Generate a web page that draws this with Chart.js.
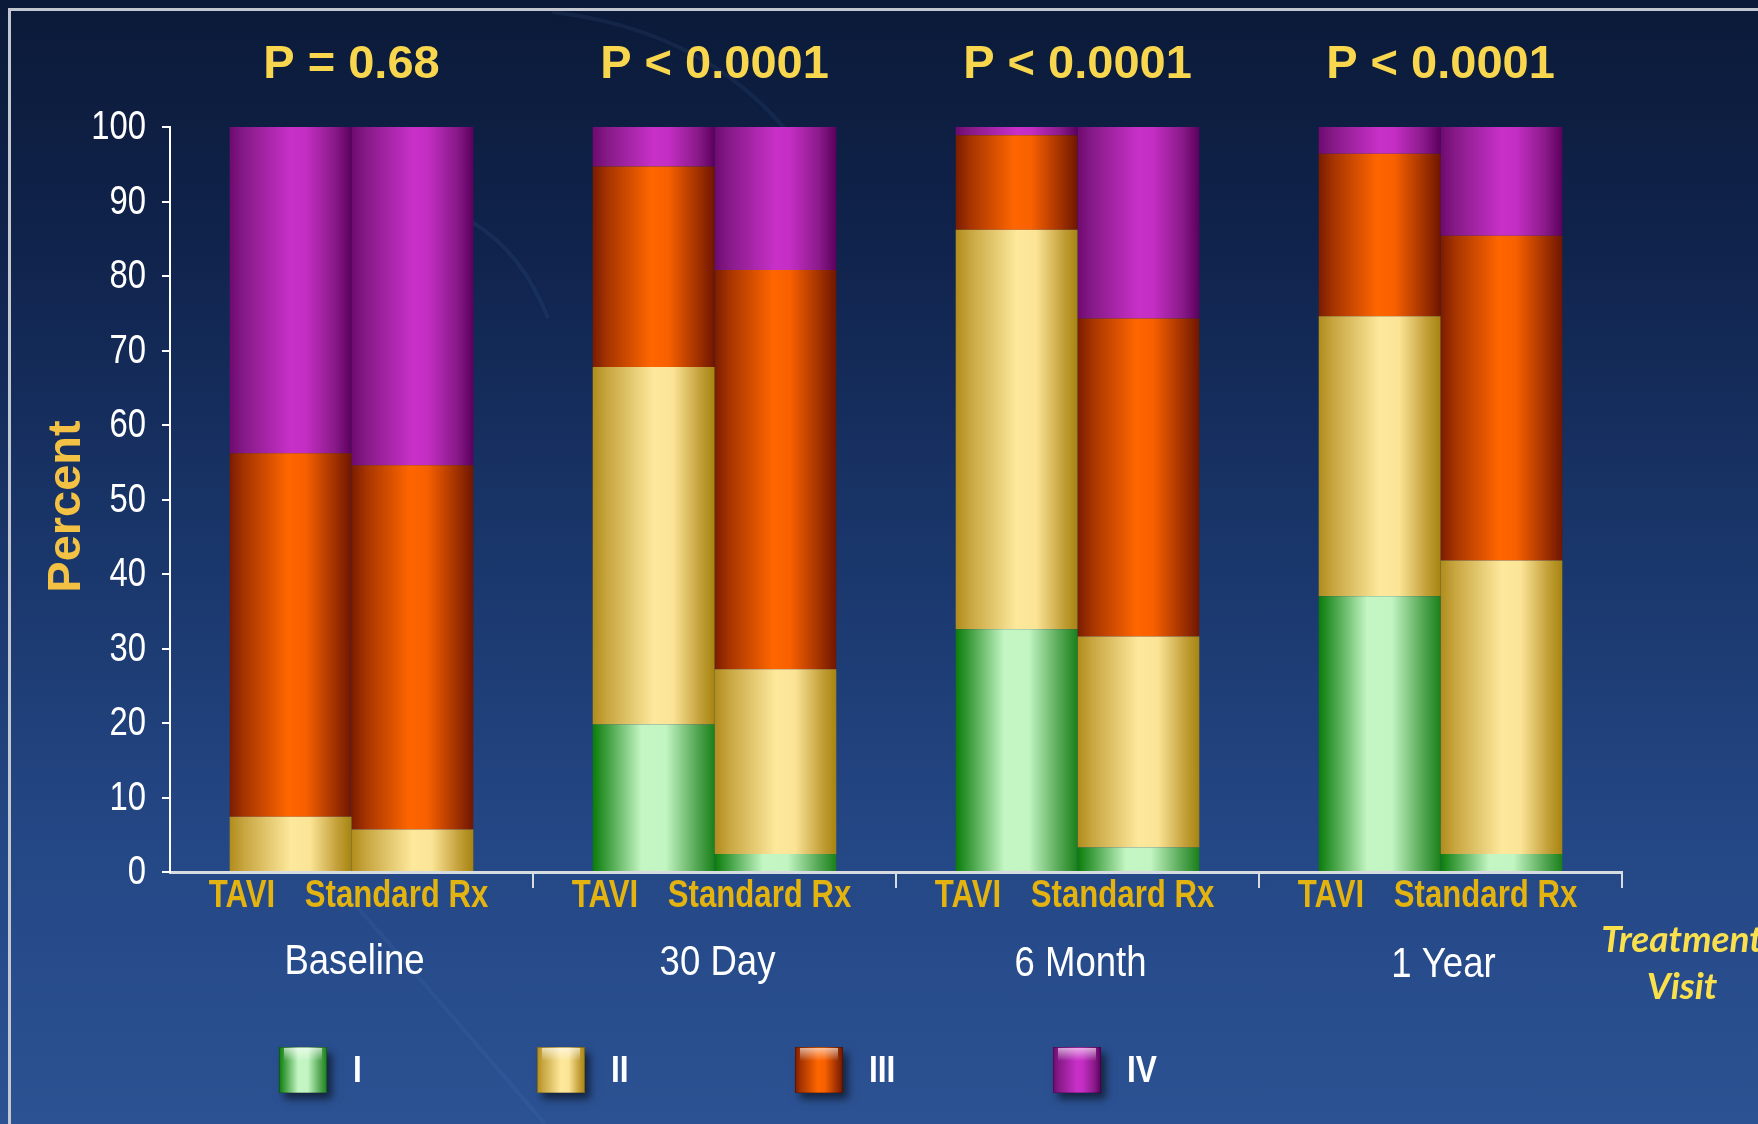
<!DOCTYPE html>
<html>
<head>
<meta charset="utf-8">
<title>NYHA class by visit</title>
<script src="https://cdn.jsdelivr.net/npm/chart.js@4.4.1/dist/chart.umd.min.js"></script>
<style>
    html, body { margin: 0; padding: 0; }
    body {
        width: 1758px;
        height: 1124px;
        overflow: hidden;
        position: relative;
        background: linear-gradient(to bottom, #0b1a38 0%, #10234c 22%, #1a376c 50%, #244785 75%, #2c5293 100%);
    }
    #frame {
        position: absolute;
        left: 8px;
        top: 8px;
        width: 1820px;
        height: 1220px;
        border: 3px solid #c3c7cf;
        box-sizing: border-box;
    }
    #nyhaChart { position: absolute; left: 0; top: 0; }
</style>
</head>
<body>
<div id="frame"></div>
<canvas id="nyhaChart" width="1758" height="1124"></canvas>
<script>
/* ═══════════ data ═══════════ */
const visits = ['Baseline', '30 Day', '6 Month', '1 Year'];
const arms = ['TAVI', 'Standard Rx'];
const classes = ['I', 'II', 'III', 'IV'];
const pValues = ['P = 0.68', 'P < 0.0001', 'P < 0.0001', 'P < 0.0001'];

// percent of patients in each NYHA class
const taviI   = [0,    19.8, 32.6, 37.0];
const taviII  = [7.4,  48.0, 53.6, 37.6];
const taviIII = [48.8, 26.9, 12.7, 21.8];
const taviIV  = [43.8, 5.3,  1.1,  3.6];

const stdI    = [0,    2.4,  3.3,  2.4];
const stdII   = [5.7,  24.8, 28.3, 39.4];
const stdIII  = [48.9, 53.6, 42.7, 43.6];
const stdIV   = [45.4, 19.2, 25.7, 14.6];

const yMax = 100;
const yStep = 10;

/* ═══════════ styling ═══════════ */
// horizontal "cylinder" shading for each class
const shades = {
    I:   [[0, '#0a7c0a'], [0.12, '#3f9f40'], [0.4, '#c4f6c4'], [0.6, '#c2f5c2'], [0.84, '#5aab5a'], [1, '#1a801a']],
    II:  [[0, '#b08c1c'], [0.12, '#c8a640'], [0.5, '#fde89c'], [0.66, '#fbe496'], [0.88, '#c4a03a'], [1, '#a6840f']],
    III: [[0, '#7a1c00'], [0.12, '#a63400'], [0.48, '#ff6600'], [0.62, '#f86000'], [0.86, '#a23200'], [1, '#701600']],
    IV:  [[0, '#6e0a70'], [0.12, '#861a88'], [0.5, '#c830c8'], [0.62, '#c42ec4'], [0.86, '#8a1a8a'], [1, '#5c005e']]
};
const flat = { I: '#9be39b', II: '#f0d47a', III: '#e05000', IV: '#b020b0' };

const SANS = "'Liberation Sans', Arial, sans-serif";

const seriesData = {
    TAVI: [taviI, taviII, taviIII, taviIV],
    'Standard Rx': [stdI, stdII, stdIII, stdIV]
};

const datasets = [];
arms.forEach(arm => {
    classes.forEach((cls, k) => {
        datasets.push({
            label: arm + ' ' + cls,
            data: seriesData[arm][k],
            stack: arm,
            shade: cls,
            backgroundColor: () => flat[cls],
            borderWidth: 0,
            barPercentage: 1.0,
            categoryPercentage: 0.671
        });
    });
});

function cylinder(ctx, left, width, cls) {
    const g = ctx.createLinearGradient(left, 0, left + width, 0);
    shades[cls].forEach(s => g.addColorStop(s[0], s[1]));
    return g;
}

// the slide uses a narrow face; squeeze Liberation Sans horizontally instead
function narrowText(ctx, text, x, y, font, squeeze) {
    ctx.save();
    ctx.translate(x, y);
    ctx.scale(squeeze, 1);
    ctx.font = font;
    ctx.fillText(text, 0, 0);
    ctx.restore();
}

// faint swooshes from the slide template
const backdrop = {
    id: 'backdrop',
    beforeDraw(chart) {
        const ctx = chart.ctx;
        ctx.save();
        ctx.strokeStyle = 'rgba(120, 160, 225, 0.08)';
        ctx.lineWidth = 4;
        ctx.shadowColor = 'rgba(120, 160, 225, 0.2)';
        ctx.shadowBlur = 6;
        ctx.beginPath();
        ctx.moveTo(552, 12);
        ctx.quadraticCurveTo(705, 30, 790, 135);
        ctx.stroke();
        ctx.beginPath();
        ctx.moveTo(472, 222);
        ctx.quadraticCurveTo(522, 252, 548, 318);
        ctx.stroke();
        ctx.strokeStyle = 'rgba(120, 160, 225, 0.07)';
        ctx.beginPath();
        ctx.moveTo(338, 885);
        ctx.quadraticCurveTo(430, 990, 545, 1124);
        ctx.stroke();
        ctx.restore();
    }
};

// swap each bar's fill for a gradient spanning its own width
const cylinderShading = {
    id: 'cylinderShading',
    beforeDatasetsDraw(chart) {
        const ctx = chart.ctx;
        chart.data.datasets.forEach((ds, i) => {
            chart.getDatasetMeta(i).data.forEach(bar => {
                bar.options.backgroundColor = cylinder(ctx, bar.x - bar.width / 2, bar.width, ds.shade);
            });
        });
    }
};

const annotations = {
    id: 'annotations',
    afterDraw(chart) {
        const { ctx, chartArea, scales } = chart;
        ctx.save();
        ctx.textBaseline = 'middle';

        // y tick labels
        ctx.fillStyle = '#ffffff';
        ctx.textAlign = 'right';
        scales.y.ticks.forEach(t => {
            narrowText(ctx, String(t.value), chartArea.left - 24, scales.y.getPixelForValue(t.value) + 1,
                '40px ' + SANS, 0.82);
        });

        ctx.textAlign = 'center';

        // visit names
        scales.x.getLabels().forEach((lab, i) => {
            narrowText(ctx, lab, scales.x.getPixelForValue(i) + 3, chartArea.bottom + 90 + i,
                '43px ' + SANS, 0.85);
        });

        // P values over each visit
        ctx.fillStyle = '#f8d64e';
        ctx.font = 'bold 47px ' + SANS;
        visits.forEach((v, i) => {
            ctx.fillText(pValues[i], scales.x.getPixelForValue(i), chartArea.top - 62);
        });

        // arm labels under the bars
        ctx.fillStyle = '#e3b30f';
        const taviMeta = chart.getDatasetMeta(0);
        const stdMeta = chart.getDatasetMeta(4);
        visits.forEach((v, i) => {
            const a = taviMeta.data[i];
            const b = stdMeta.data[i];
            narrowText(ctx, arms[0], a.x - a.width * 0.4, chartArea.bottom + 25, 'bold 38px ' + SANS, 0.82);
            narrowText(ctx, arms[1], b.x - b.width * 0.13, chartArea.bottom + 25, 'bold 38px ' + SANS, 0.82);
        });

        // y title
        ctx.save();
        ctx.translate(chartArea.left - 103, (chartArea.top + chartArea.bottom) / 2 + 7);
        ctx.rotate(-Math.PI / 2);
        ctx.fillStyle = '#f3c244';
        ctx.font = 'bold 47px ' + SANS;
        ctx.fillText('Percent', 0, 0);
        ctx.restore();

        // x title, runs off the right edge like the slide
        ctx.fillStyle = '#f9e04c';
        ctx.font = 'italic bold 37px Lato, ' + SANS;
        ctx.fillText('Treatment', chartArea.right + 60, chartArea.bottom + 68);
        ctx.fillText('Visit', chartArea.right + 60, chartArea.bottom + 115);

        // legend
        const boxW = 48, boxH = 46;
        const legY = chartArea.bottom + 198;
        ctx.textAlign = 'left';
        classes.forEach((cls, k) => {
            const x = chartArea.left + 109 + k * 258;
            const y = legY - boxH / 2;
            ctx.save();
            ctx.shadowColor = 'rgba(0,0,0,0.55)';
            ctx.shadowBlur = 8;
            ctx.shadowOffsetX = 5;
            ctx.shadowOffsetY = 6;
            ctx.fillStyle = cylinder(ctx, x, boxW, cls);
            ctx.fillRect(x, y, boxW, boxH);
            ctx.restore();
            // glossy top bevel
            const hl = ctx.createLinearGradient(0, y, 0, y + 14);
            hl.addColorStop(0, 'rgba(255,255,255,0.65)');
            hl.addColorStop(1, 'rgba(255,255,255,0)');
            ctx.fillStyle = hl;
            ctx.fillRect(x + 5, y + 1, boxW - 10, 14);
            ctx.strokeStyle = 'rgba(0,0,0,0.25)';
            ctx.lineWidth = 1;
            ctx.strokeRect(x + 0.5, y + 0.5, boxW - 1, boxH - 1);

            ctx.fillStyle = '#ffffff';
            narrowText(ctx, cls, x + boxW + 26, legY + 2, 'bold 36px ' + SANS, 0.88);
        });
        ctx.restore();
    }
};

new Chart(document.getElementById('nyhaChart'), {
    type: 'bar',
    data: { labels: visits, datasets: datasets },
    options: {
        responsive: false,
        animation: false,
        devicePixelRatio: 1,
        layout: { padding: { top: 127, right: 136, bottom: 0, left: 0 } },
        plugins: {
            legend: { display: false },
            tooltip: { enabled: false },
            title: { display: false }
        },
        scales: {
            x: {
                stacked: true,
                z: 1,
                afterFit(scale) { scale.height = 252; },
                grid: {
                    offset: true,
                    drawOnChartArea: false,
                    drawTicks: true,
                    tickLength: 16,
                    lineWidth: 2,
                    color: ctx => ctx.index === 0 ? 'rgba(0,0,0,0)' : '#d7dbe2'
                },
                border: { display: true, color: '#d7dbe2', width: 3 },
                ticks: { display: false }
            },
            y: {
                stacked: true,
                min: 0,
                max: yMax,
                afterFit(scale) { scale.width = 170; },
                grid: {
                    drawOnChartArea: false,
                    drawTicks: true,
                    tickLength: 8,
                    lineWidth: 2,
                    color: '#ffffff'
                },
                border: { display: true, color: '#ffffff', width: 2 },
                ticks: { stepSize: yStep, display: false }
            }
        }
    },
    plugins: [backdrop, cylinderShading, annotations]
});
</script>
</body>
</html>
